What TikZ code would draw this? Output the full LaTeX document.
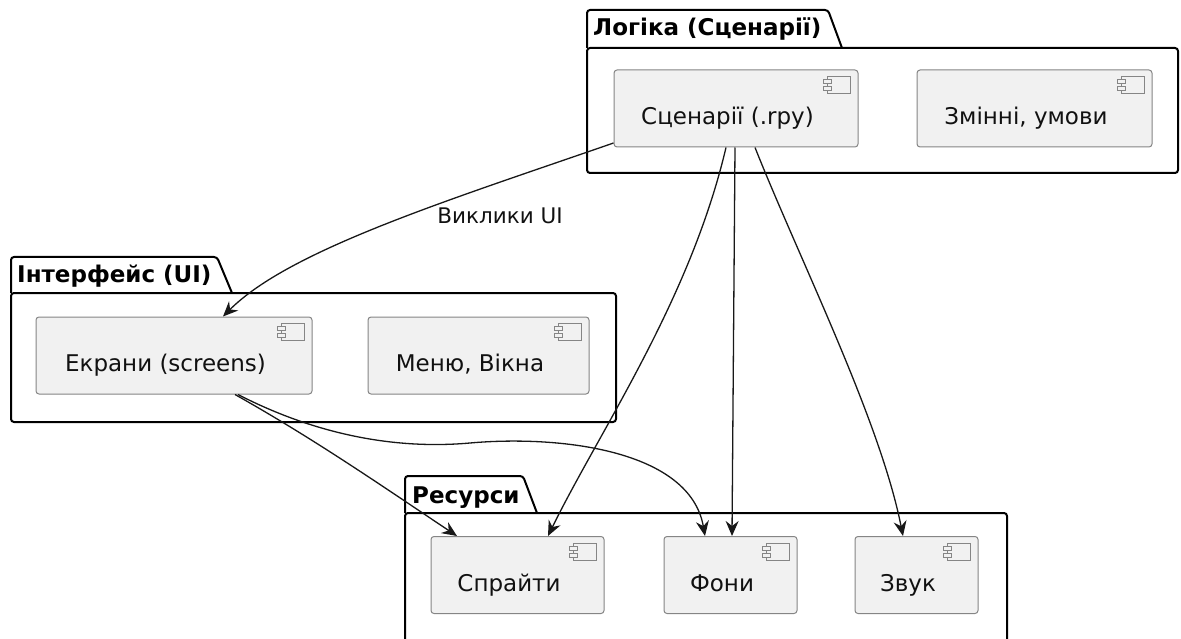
\documentclass[tikz,border=0pt]{standalone}
\usepackage{fontspec}
\setmainfont{DejaVu Sans}
\usetikzlibrary{arrows.meta}

\definecolor{compfill}{HTML}{F1F1F1}
\definecolor{compline}{HTML}{858585}
\definecolor{arrowcol}{HTML}{181818}
\definecolor{textcol}{HTML}{111111}

\begin{document}
\begin{tikzpicture}[x=1pt,y=-1pt,
        pkg/.style={draw=black,line width=2pt,rounded corners=3pt},
        pkgtitle/.style={anchor=base west,inner sep=0pt,font=\fontsize{23}{27}\selectfont\bfseries},
        comp/.style={draw=compline,fill=compfill,line width=1pt,rounded corners=3pt,minimum height=77pt,inner sep=0pt},
        ctext/.style={anchor=base,inner sep=0pt,text=textcol,font=\fontsize{23}{27}\selectfont},
        icon/.style={draw=compline,fill=compfill,line width=0.9pt},
        arr/.style={-{Stealth[length=15pt,width=13pt,inset=5pt]},line width=1.3pt,draw=arrowcol},
        lbl/.style={inner sep=0pt,text=textcol,font=\fontsize{21.5}{25}\selectfont}]
        \useasboundingbox (0,0) rectangle (1181,639);
        \clip (0,0) rectangle (1181,639);

        % packages
        \draw[pkg] (587,48) -- (587,10) -- (828,10) -- (842,48);
        \draw[pkg] (587,48) rectangle (1178,173);
        \node[pkgtitle] (logic) at (593,36) {Логіка (Сценарії)};

        \draw[pkg] (11,293) -- (11,257) -- (217,257) -- (232,293);
        \draw[pkg] (11,293) rectangle (616,422);
        \node[pkgtitle] (ui) at (17,283) {Інтерфейс (UI)};

        \draw[pkg] (405,513) -- (405,476) -- (523,476) -- (537,513);
        \draw[pkg] (405,513) rectangle (1007,670);
        \node[pkgtitle] (res) at (412,503) {Ресурси};

        % components
        \foreach \n/\cx/\cy/\w/\t in {scen/736/108.5/244/{Сценарії (.rpy)},
                        vars/1034.5/108.5/235/{Змінні, умови},
                        ekr/174/355.5/276/{Екрани (screens)},
                        menu/478.5/355.5/221/{Меню, Вікна},
                        spr/517.5/575/173/{Спрайти},
                        foni/730.5/575/133/{Фони},
                        zvuk/916.5/575/123/{Звук}}{
                \node[comp,minimum width=\w pt] (\n) at (\cx,\cy) {};
                \draw[icon] ([shift={(-31,7)}]\n.north east) rectangle ++(23,17);
                \draw[icon] ([shift={(-35,10)}]\n.north east) rectangle ++(8,4);
                \draw[icon] ([shift={(-35,17)}]\n.north east) rectangle ++(8,4);
                \node[ctext] (\n-t) at ([shift={(-8.5,55)}]\n.north) {\t};
        }

        % connectors
        \draw[arr] ([shift={(0,34.5)}]scen.west) .. controls +(-164,57) and +(67,-67) .. ([xshift=49pt]ekr.north);
        \node[lbl] (callui) at (500,216) {Виклики UI};

        \draw[arr] ([xshift=-10pt]scen.south) .. controls +(-36,153) and +(52,-106) .. ([xshift=30.5pt]spr.north);
        \draw[arr] ([xshift=-1pt]scen.south) -- ([xshift=1.5pt]foni.north);
        \draw[arr] ([xshift=19pt]scen.south) .. controls +(45,113) and +(-23,-116) .. ([xshift=-13.5pt]zvuk.north);

        \draw[arr] ([xshift=61pt]ekr.south) .. controls +(80,45) and +(-75,-50) .. ([xshift=-60.5pt]spr.north);
        \draw[arr] ([xshift=64pt]ekr.south) .. controls +(62,32) and +(-90,8) .. (470,443)
                .. controls +(90,-8) and +(-15,-86) .. ([xshift=-25.5pt]foni.north);

\end{tikzpicture}
\end{document}
